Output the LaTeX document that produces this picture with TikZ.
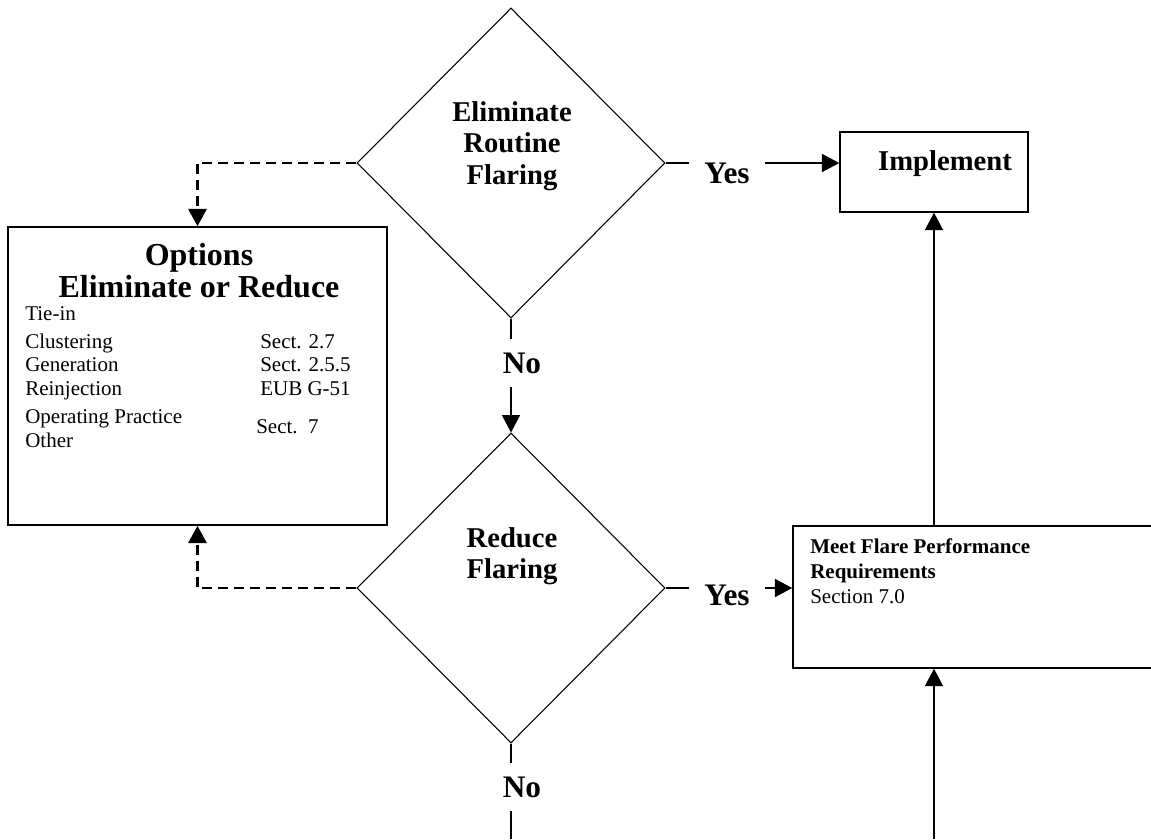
\documentclass[tikz,border=0pt]{standalone}
\usepackage{fontspec}
\setmainfont{Liberation Serif}
\usetikzlibrary{shapes.geometric,arrows.meta}

\begin{document}
\begin{tikzpicture}[x=0.75pt,y=-0.75pt,
    decision/.style={draw,line width=0.8pt,shape=diamond,aspect=1,inner sep=0pt,
        minimum width=231pt,minimum height=232.5pt},
    box/.style={draw,line width=1.1pt,rectangle,inner sep=0pt},
    arr/.style={line width=1.2pt,-{Triangle[length=13pt,width=13.5pt]}},
    dasharr/.style={line width=2.2pt,dash pattern=on 7.5pt off 4.5pt,
        -{Triangle[length=13pt,width=13.5pt]}},
    lbl/.style={font=\bfseries\fontsize{23.5}{28}\selectfont,inner xsep=11pt,inner ysep=10pt,anchor=base},
    head/.style={font=\bfseries\fontsize{21.5}{23.6}\selectfont,align=center},
    body/.style={font=\fontsize{15.75}{19}\selectfont,anchor=base west,inner sep=0pt},
    bodyb/.style={body,font=\bfseries\fontsize{15.75}{19}\selectfont}]
            \useasboundingbox (0,0) rectangle (1151,839);
            \clip (0,0) rectangle (1151,839);

            \node[decision] (elim) at (511,163) {};
            \node[head] (elimtxt) at (512,146) {Eliminate\\Routine\\Flaring};
            \node[decision] (red) at (511,588) {};
            \node[head] (redtxt) at (512,556) {Reduce\\Flaring};

            \node[box,minimum width=141pt,minimum height=60pt] (impl) at (934,172) {};
            \node[font=\bfseries\fontsize{21.5}{24}\selectfont,anchor=base] (impltxt) at (945,170) {Implement};

            \node[box,minimum width=282.75pt,minimum height=106.5pt] (meet) at (981.5,597) {};
            \node[bodyb] (meet1) at (810,553) {Meet Flare Performance};
            \node[bodyb] (meet2) at (810,578) {Requirements};
            \node[body] (meet3) at (810,603) {Section 7.0};

            \node[box,minimum width=284.25pt,minimum height=223.5pt] (opts) at (197.5,376) {};
            \node[font=\bfseries\fontsize{24}{24}\selectfont,align=center] (optstxt) at (199,271)
                {Options\\Eliminate or Reduce};
            \foreach \t/\y [count=\i] in {Tie-in/320,Clustering/348,Generation/371,
                    Reinjection/395,Operating Practice/423,Other/447}{
                \node[body] (opt\i) at (25,\y) {\t};
            }
            \foreach \t/\y [count=\i] in {Sect. 2.7/348,Sect. 2.5.5/371,EUB G-51/395}{
                \node[body] (sect\i) at (260,\y) {\t};
            }
            \node[body] (sect4) at (256,433) {Sect.\enspace7};

            \node[lbl] (yes1) at (727,183) {Yes};
            \node[lbl] (yes2) at (727,605) {Yes};
            \node[lbl] (no1) at (522,373) {No};
            \node[lbl] (no2) at (522,797) {No};

            \coordinate (exitno) at (511,839);
            \coordinate (exitmeet) at (934,839);

            \draw[line width=1.2pt] (elim.east) -- (yes1.west |- elim.east);
            \draw[arr] (yes1.east |- elim.east) -- (impl.west |- elim.east);
            \draw[line width=1.2pt] (elim.south) -- (elim.south |- no1.north);
            \draw[arr] (elim.south |- no1.south) -- (red.north);
            \draw[line width=1.2pt] (red.east) -- (yes2.west |- red.east);
            \draw[arr] (yes2.east |- red.east) -- (meet.west |- red.east);
            \draw[line width=1.2pt] (red.south) -- (red.south |- no2.north);
            \draw[line width=1.2pt] (red.south |- no2.south) -- (exitno);
            \draw[arr] (exitmeet) -- (meet.south -| exitmeet);
            \draw[arr] (meet.north -| impl.south) -- (impl.south);
            \draw[dasharr] (elim.west) -| (opts.north);
            \draw[dasharr] (red.west) -| (opts.south);
        \end{tikzpicture}
\end{document}
